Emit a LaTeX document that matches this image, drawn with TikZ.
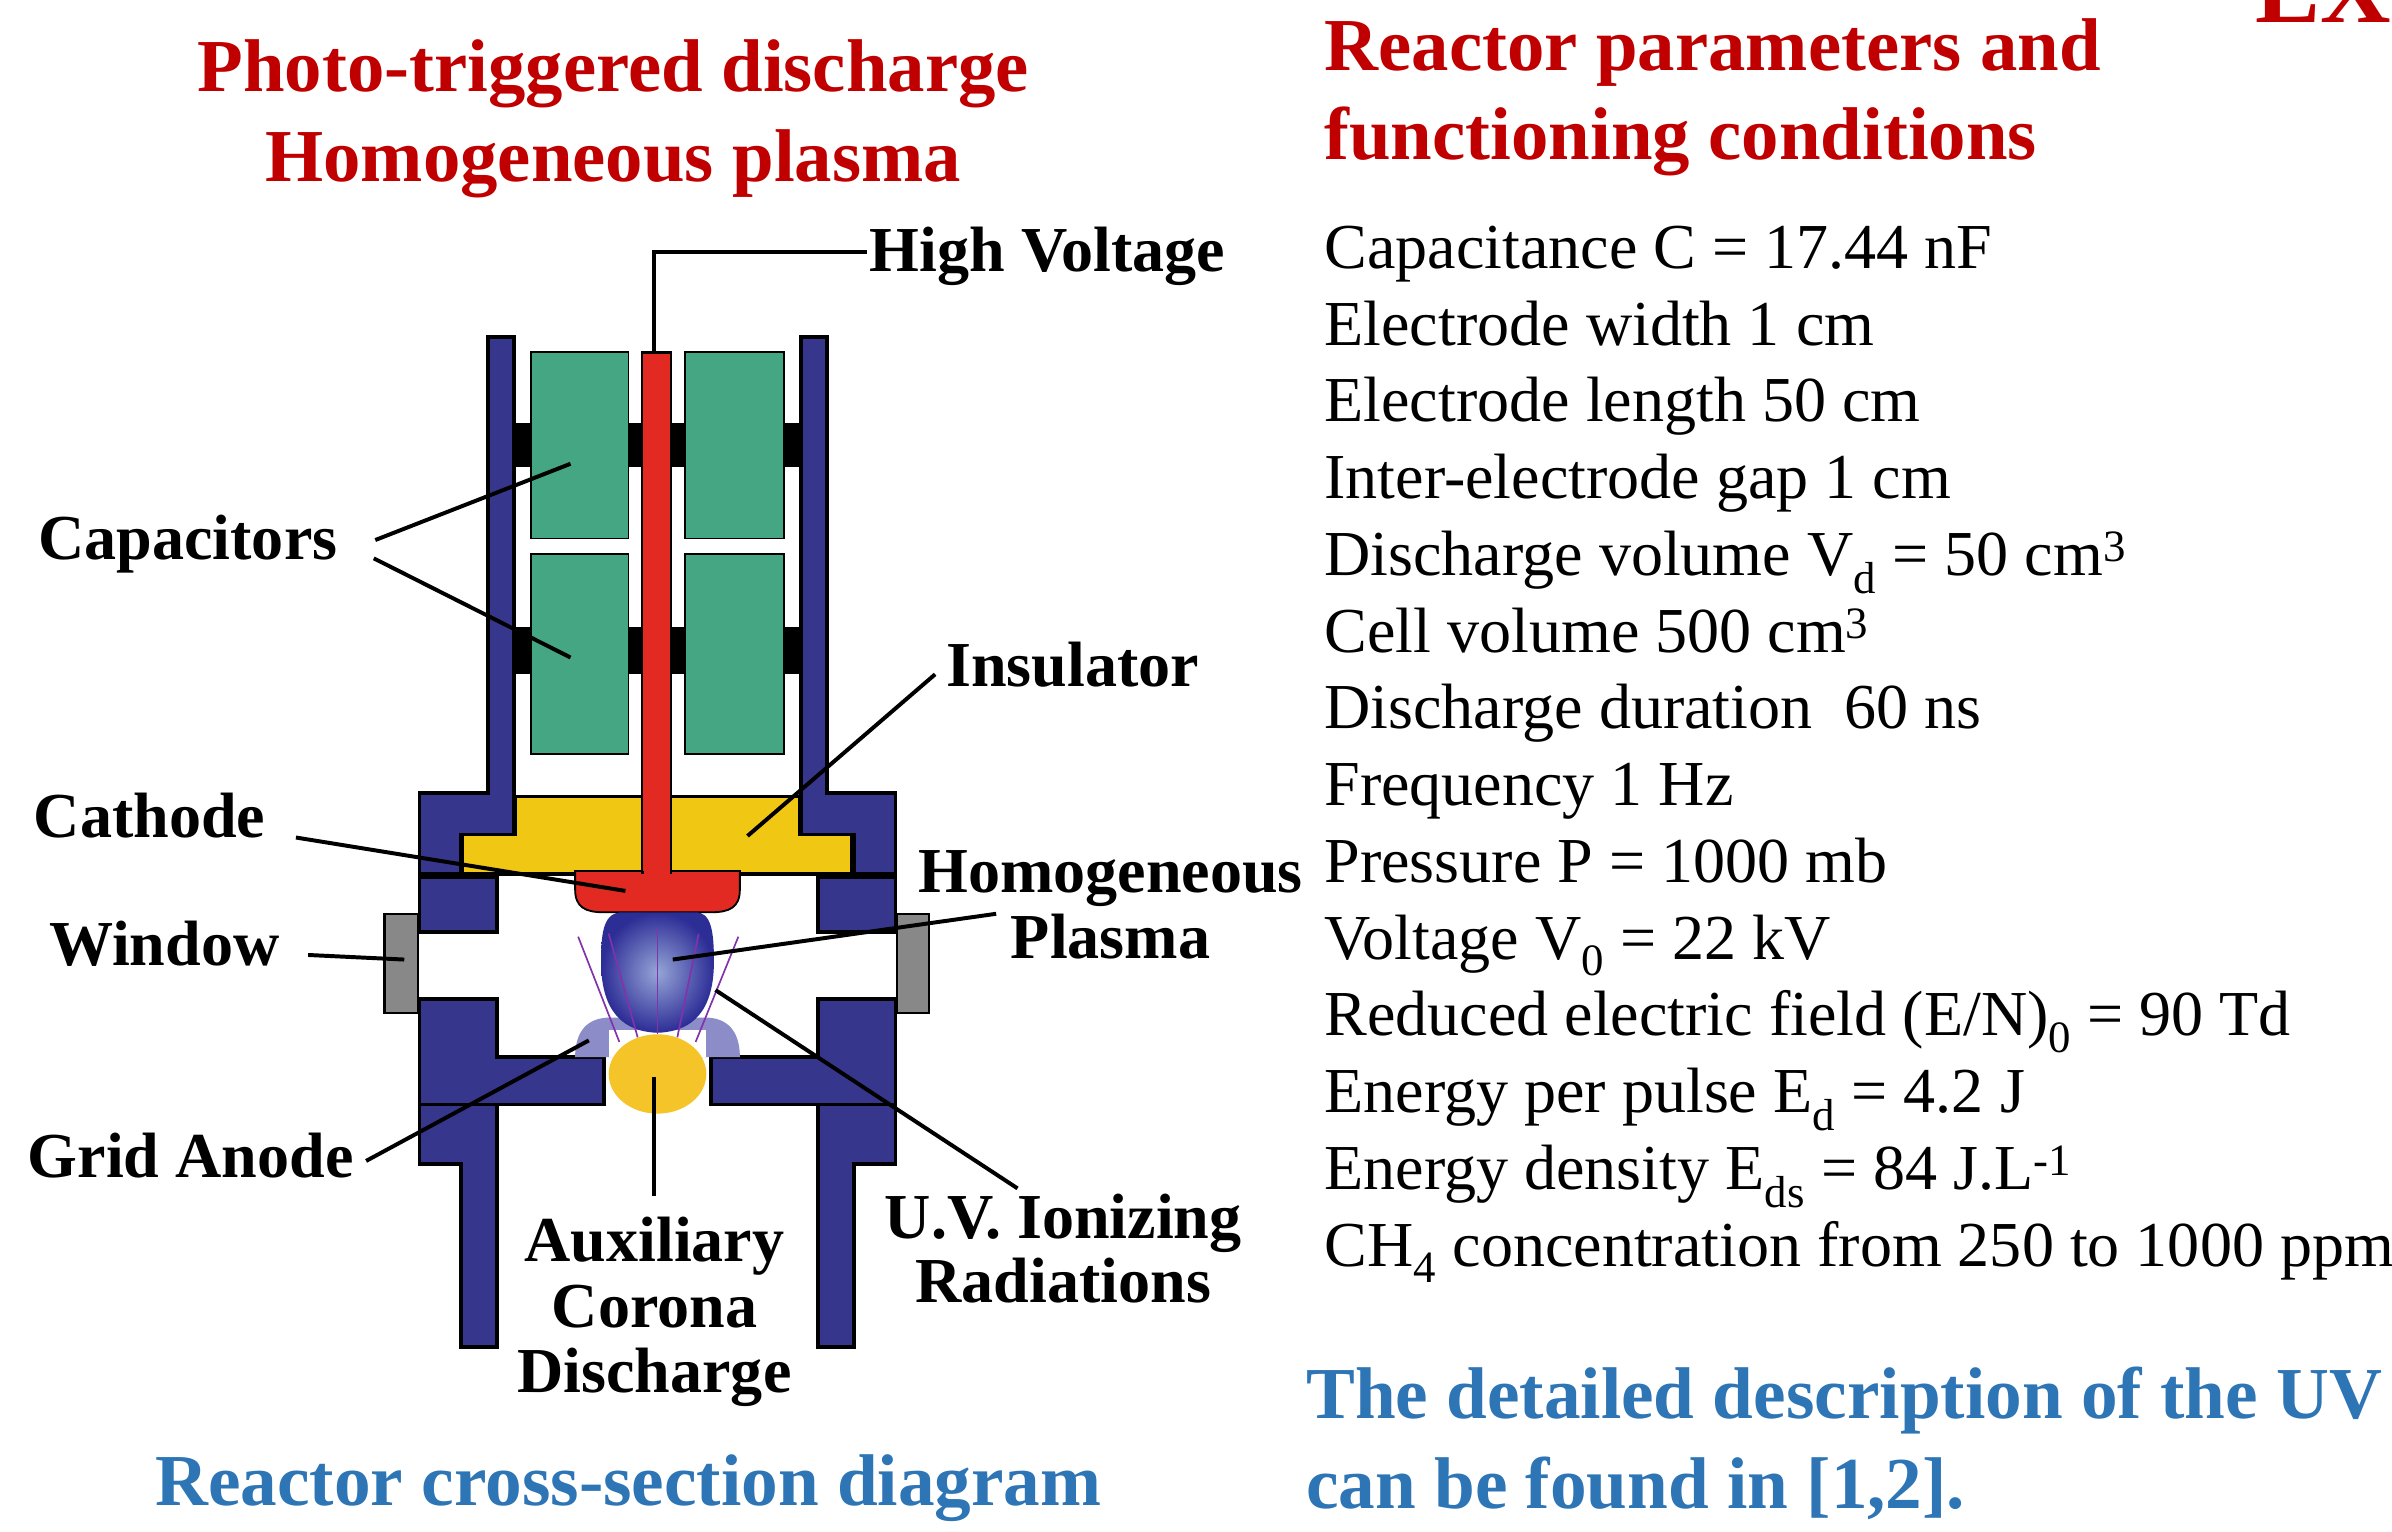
\documentclass[tikz,border=0pt]{standalone}
\usepackage{fontspec}
\setmainfont{Liberation Serif}
\definecolor{tred}{RGB}{192,0,0}
\definecolor{tblue}{RGB}{46,117,182}
\definecolor{hblue}{RGB}{54,54,140}
\definecolor{capgreen}{RGB}{68,166,130}
\definecolor{rodred}{RGB}{226,42,34}
\definecolor{insyellow}{RGB}{240,200,20}
\definecolor{wingray}{RGB}{136,136,136}
\definecolor{gridlav}{RGB}{140,140,200}
\definecolor{corona}{RGB}{245,196,40}
\definecolor{uvpurple}{RGB}{130,50,170}
\definecolor{plasmain}{RGB}{150,165,215}
\definecolor{plasmaout}{RGB}{45,45,150}
\begin{document}
\begin{tikzpicture}[x=1pt,y=-1pt,
  housing/.style={fill=hblue,draw=black,line width=2.5pt,line join=miter},
  capbox/.style={fill=capgreen,draw=black,line width=1.2pt},
  spacer/.style={fill=black,draw=none},
  leader/.style={draw=black,line width=2.6pt},
  lbl/.style={inner sep=0pt,anchor=base west,font=\fontsize{42}{46}\selectfont\bfseries},
  lblc/.style={inner sep=0pt,anchor=base,font=\fontsize{42}{46}\selectfont\bfseries},
  param/.style={inner sep=0pt,anchor=base west,font=\fontsize{42}{46}\selectfont},
  ttl/.style={inner sep=0pt,anchor=base,font=\fontsize{49}{58}\selectfont\bfseries,text=tred},
  ttlr/.style={inner sep=0pt,anchor=base west,font=\fontsize{49}{58}\selectfont\bfseries,text=tred},
  blu/.style={inner sep=0pt,font=\fontsize{48}{56}\selectfont\bfseries,text=tblue},
  uv/.style={draw=uvpurple,line width=1.1pt}
]
\useasboundingbox (0,0) rectangle (1568,1004);
\clip (0,0) rectangle (1568,1004);

% ---------------- titles ----------------
\node[ttl] (t1) at (402,60) {Photo-triggered discharge};
\node[ttl] (t2) at (402,119) {Homogeneous plasma};
\node[ttlr] (t3) at (868,46) {Reactor parameters and};
\node[ttlr] (t4) at (868,104.5) {functioning conditions};
\node[inner sep=0pt,anchor=base west,font=\fontsize{64}{70}\selectfont\bfseries,text=tred] (ex) at (1478,15) {EX};

% ---------------- parameters ----------------
\node[param] (p1) at (868,176) {Capacitance C = 17.44 nF};
\node[param] (p2) at (868,226.3) {Electrode width 1 cm};
\node[param] (p3) at (868,276.6) {Electrode length 50 cm};
\node[param] (p4) at (868,326.9) {Inter-electrode gap 1 cm};
\node[param] (p5) at (868,377.2) {Discharge volume V\textsubscript{d} = 50 cm\textsuperscript{3}};
\node[param] (p6) at (868,427.5) {Cell volume 500 cm\textsuperscript{3}};
\node[param] (p7) at (868,477.8) {Discharge duration\ \ 60 ns};
\node[param] (p8) at (868,528.1) {Frequency 1 Hz};
\node[param] (p9) at (868,578.4) {Pressure P = 1000 mb};
\node[param] (p10) at (868,628.7) {Voltage V\textsubscript{0} = 22 kV};
\node[param] (p11) at (868,679) {Reduced electric field (E/N)\textsubscript{0} = 90 Td};
\node[param] (p12) at (868,729.3) {Energy per pulse E\textsubscript{d} = 4.2 J};
\node[param] (p13) at (868,779.6) {Energy density E\textsubscript{ds} = 84 J.L\textsuperscript{-1}};
\node[param] (p14) at (868,829.9) {CH\textsubscript{4} concentration from 250 to 1000 ppm};

% ---------------- blue texts ----------------
\node[blu,anchor=base west] (b1) at (856,930) {The detailed description of the UV};
\node[blu,anchor=base west] (b2) at (856,988.6) {can be found in [1,2].};
\node[blu,anchor=base] (b3) at (412,987) {Reactor cross-section diagram};

% ---------------- reactor drawing ----------------
% spacers behind capacitors
\fill[spacer] (336,277) rectangle (526,306);
\fill[spacer] (336,411) rectangle (526,442);

% top bars + flange
\path[housing] (320,221) -- (337,221) -- (337,547) -- (302,547) -- (302,573) -- (275,573) -- (275,520) -- (320,520) -- cycle;
\path[housing] (542,221) -- (525,221) -- (525,547) -- (560,547) -- (560,573) -- (587,573) -- (587,520) -- (542,520) -- cycle;
% middle upper blocks
\path[housing] (275,575) rectangle (326,611);
\path[housing] (536,575) rectangle (587,611);
% middle lower blocks with anode shelves
\path[housing] (275,655) -- (326,655) -- (326,693) -- (396,693) -- (396,724) -- (275,724) -- cycle;
\path[housing] (587,655) -- (536,655) -- (536,693) -- (466,693) -- (466,724) -- (587,724) -- cycle;
% legs
\path[housing] (275,724) -- (326,724) -- (326,883) -- (302,883) -- (302,763) -- (275,763) -- cycle;
\path[housing] (587,724) -- (536,724) -- (536,883) -- (560,883) -- (560,763) -- (587,763) -- cycle;

% capacitors
\path[capbox] (348,231) rectangle (412,353);
\path[capbox] (348,363) rectangle (412,494);
\path[capbox] (449,231) rectangle (514,353);
\path[capbox] (449,363) rectangle (514,494);

% insulator
\path[fill=insyellow,draw=black,line width=2.2pt] (338,522) -- (524,522) -- (524,547) -- (558,547) -- (558,573) -- (303,573) -- (303,547) -- (338,547) -- cycle;

% cathode and rod
\path[fill=rodred,draw=black,line width=1.2pt] (377,571) -- (485,571) -- (485,583) .. controls (485,595) and (478,598) .. (466,598) -- (396,598) .. controls (384,598) and (377,595) .. (377,583) -- cycle;
\path[fill=rodred,draw=black,line width=1.6pt] (421,231) rectangle (440,572);
\fill[rodred] (422,566) rectangle (439,576);

% windows
\path[fill=wingray,draw=black,line width=1.5pt] (252,599) rectangle (274,664);
\path[fill=wingray,draw=black,line width=1.5pt] (588,599) rectangle (609,664);

% grid anode
\path[fill=gridlav,draw=none] (377,693) .. controls (377,676) and (385,667) .. (400,667) -- (462,667) .. controls (477,667) and (485,676) .. (485,693) -- cycle;
\fill[white] (399,675) rectangle (463,693);
\fill[corona] (431,704) ellipse [x radius=32, y radius=26];

% plasma
\shade[inner color=plasmain,outer color=plasmaout] (408,598) -- (456,598) .. controls (466,598) and (468,610) .. (468,630) .. controls (468,655) and (460,676) .. (431,677) .. controls (402,676) and (394,655) .. (394,630) .. controls (394,610) and (396,598) .. (408,598) -- cycle;
% UV rays
\draw[uv] (379,614) -- (406,683);
\draw[uv] (399,612) -- (418,680);
\draw[uv] (431,608) -- (431,678);
\draw[uv] (458,612) -- (444,680);
\draw[uv] (484,614) -- (456,683);

% ---------------- labels ----------------
\node[lbl] (hv) at (570,178) {High Voltage};
\node[lbl] (capl) at (25,367) {Capacitors};
\node[lbl] (insl) at (620,450) {Insulator};
\node[lbl] (cath) at (22,549) {Cathode};
\node[lbl] (win) at (32,633) {Window};
\node[lbl] (grid) at (18,772) {Grid Anode};
\node[lblc] (hom1) at (728,585) {Homogeneous};
\node[lblc] (hom2) at (728,628) {Plasma};
\node[lblc] (uv1) at (697,812) {U.V. Ionizing};
\node[lblc] (uv2) at (697,854) {Radiations};
\node[lblc] (aux1) at (429,827) {Auxiliary};
\node[lblc] (aux2) at (429,870) {Corona};
\node[lblc] (aux3) at (429,913) {Discharge};

% leader end points
\coordinate (hvA) at (429,232);
\coordinate (hvB) at (429,165);
\coordinate (hvC) at (568,165);
\coordinate (capS1) at (246,354);
\coordinate (capE1) at (374,304);
\coordinate (capS2) at (245,366);
\coordinate (capE2) at (374,431);
\coordinate (insS) at (613,442);
\coordinate (insE) at (490,548);
\coordinate (cathS) at (194,549);
\coordinate (cathE) at (410,584);
\coordinate (winS) at (202,626);
\coordinate (winE) at (265,629);
\coordinate (gridS) at (240,761);
\coordinate (gridE) at (386,682);
\coordinate (homS) at (653,599);
\coordinate (homE) at (441,629);
\coordinate (uvS) at (667,779);
\coordinate (uvE) at (469,649);
\coordinate (auxS) at (429,784);
\coordinate (auxE) at (429,706);

\draw[leader] (hvA) -- (hvB) -- (hvC);
\draw[leader] (capS1) -- (capE1);
\draw[leader] (capS2) -- (capE2);
\draw[leader] (insS) -- (insE);
\draw[leader] (cathS) -- (cathE);
\draw[leader] (winS) -- (winE);
\draw[leader] (gridS) -- (gridE);
\draw[leader] (homS) -- (homE);
\draw[leader] (uvS) -- (uvE);
\draw[leader] (auxS) -- (auxE);
\end{tikzpicture}
\end{document}
